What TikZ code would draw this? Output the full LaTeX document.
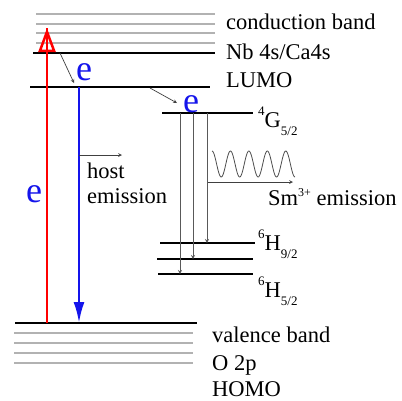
\documentclass[tikz,border=0pt]{standalone}
\usepackage{fontspec}
\setmainfont{Liberation Serif}
\usetikzlibrary{arrows.meta}

\definecolor{eblue}{RGB}{20,20,235}
\newcommand{\term}[3]{\raisebox{12pt}{\fontsize{13}{13}\selectfont #1}#2\raisebox{-8pt}{\fontsize{13}{13}\selectfont #3}}

\begin{document}
\begin{tikzpicture}[x=1pt, y=-1pt, >=stealth]
  % Define styles
  \tikzstyle{band}=[line width=1.3pt, gray!60]
  \tikzstyle{level}=[line width=2.6pt, black]
  \tikzstyle{txt}=[anchor=base west, inner sep=0pt, font=\fontsize{22.5}{26}\selectfont]
  \tikzstyle{elec}=[anchor=base, inner sep=0pt, text=eblue, font=\fontsize{36}{36}\selectfont]
  \tikzstyle{excite}=[line width=2.5pt, red, -{Triangle[open, length=24pt, width=17pt]}]
  \tikzstyle{relax}=[line width=2.5pt, eblue, -{Latex[length=21pt, width=11pt]}]
  \tikzstyle{hop}=[->, line width=0.7pt, black!75]
  \tikzstyle{decay}=[->, line width=0.8pt, black!65]

  \useasboundingbox (0,0) rectangle (402,400);

  % Conduction band
  \foreach \y in {14,24,33,43} \draw[band] (36,\y) -- (215,\y);
  \draw[level] (33,53) -- (215,53);
  \draw[level] (30,87) -- (210,87);

  % Valence band
  \draw[level] (15,323) -- (197,323);
  \foreach \y in {333,343,353,363} \draw[band] (14,\y) -- (193,\y);

  % Sm levels
  \draw[level] (162,113) -- (253,113);
  \draw[level] (160,243) -- (255,243);
  \draw[level] (157,259) -- (253,259);
  \draw[level] (158,274) -- (253,274);

  % Band labels
  \node[txt] (cb) at (226,29) {conduction band};
  \node[txt] (nb) at (226,59) {Nb 4s/Ca4s};
  \node[txt] (lumo) at (226,87) {LUMO};
  \node[txt] (vb) at (212,342) {valence band};
  \node[txt] (o2p) at (212,370) {O 2p};
  \node[txt] (homo) at (212,396) {HOMO};

  % Sm labels
  \node[txt] (g52) at (258,127) {\term{4}{G}{5/2}};
  \node[txt] (h92) at (258,250) {\term{6}{H}{9/2}};
  \node[txt] (h52) at (258,297) {\term{6}{H}{5/2}};
  \node[txt] (smem) at (268,205) {Sm\raisebox{9pt}{\fontsize{12}{12}\selectfont 3+} emission};
  \node[txt] (host) at (87,178) {host};
  \node[txt] (hostem) at (87,203) {emission};

  % Electrons
  \node[elec] (eexc) at (34,202) {e};
  \node[elec] (elumo) at (84,80) {e};
  \node[elec] (esm) at (191,112) {e};

  % Coordinates
  \coordinate (redlow) at (47,323);
  \coordinate (redtop) at (47,28);
  \coordinate (bluetop) at (79,87);
  \coordinate (bluelow) at (79,323);
  \coordinate (hopa) at (60,53);
  \coordinate (hopb) at (74,83);
  \coordinate (hopc) at (150,88);
  \coordinate (hopd) at (177,103);
  \coordinate (hosta) at (79,155);
  \coordinate (hostb) at (122,155);
  \coordinate (sma) at (208,182);
  \coordinate (smb) at (293,182);
  \foreach \x/\y/\n in {180/274/a, 193/259/b, 207/243/c} {
    \coordinate (top\n) at (\x,113);
    \coordinate (end\n) at (\x,\y);
  }

  % Transitions
  \draw[red, line width=2.5pt] (redlow) -- (redtop);
  \draw[excite] (redlow) -- (redtop);
  \draw[relax] (bluetop) -- (bluelow);
  \draw[hop] (hopa) -- (hopb);
  \draw[hop] (hopc) -- (hopd);
  \draw[hop] (hosta) -- (hostb);
  \draw[hop] (sma) -- (smb);
  \foreach \n in {a,b,c} \draw[decay] (top\n) -- (end\n);

  % Wave
  \draw[line width=0.8pt, black!70] plot[domain=0:83, samples=150] ({212+\x}, {164-13*cos(\x/83*4.5*360)});
\end{tikzpicture}
\end{document}
